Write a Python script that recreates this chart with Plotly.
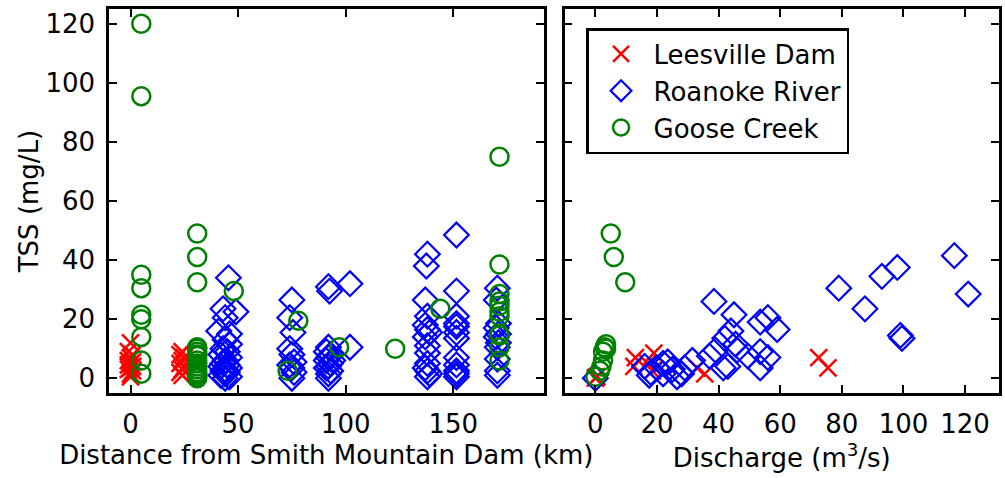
import plotly.graph_objects as go

# ---------------- data (left panel: distance km vs TSS) ----------------
lees_dist = [0, -1, 1, 0, -1, 1, 0, -1, 1, 0, -1, 1, 0, 0,
             24, 23, 25, 24, 23, 25, 24, 23, 24]
lees_tss_d = [12, 9, 8, 7, 6, 5.5, 5, 4.5, 4, 3.5, 3, 2.5, 1.5, 0.5,
              9, 8, 7, 6, 5, 4, 3, 2, 1]

roan_dist = [45.5, 43, 49, 44, 41, 46, 44, 46, 43, 45, 42, 46, 44, 43, 45, 42, 46, 44, 43, 45, 44, 42, 46, 44,
             75, 74, 75.5, 74, 75, 76, 74, 75, 76, 75,
             92, 92.5, 92, 91, 93, 92, 91, 93, 92, 91, 93, 92, 92, 94,
             102, 102,
             138, 137.5, 137, 138, 137, 138, 139, 137, 138, 138, 138, 137, 138, 139, 138,
             151.5, 151.5, 151.5, 151.5, 151.5, 151.5, 151.5, 151.5, 151.5, 151.5, 151.5, 151.5,
             170.5, 170, 171, 170, 171, 170, 171, 170.5, 170.5, 170.5, 170.5]
roan_tss_d = [34, 23.5, 22.5, 20.5, 16, 15, 13, 11.5, 10, 9, 8, 7, 6, 5, 4.5, 4, 3.5, 3, 2.5, 2, 1.5, 1, 0.5, 0,
              26.5, 20.5, 15.5, 10, 8, 5.5, 4.5, 3.5, 2, 0,
              31, 29.5, 10.5, 9, 8, 7, 6, 5, 4, 3.5, 2.5, 1.5, 0, 6,
              32, 10.5,
              42, 38, 26.5, 21, 18, 16.5, 15.5, 14, 11, 8.5, 5, 3.5, 2.5, 1.5, 0.5,
              48.5, 29.5, 21, 18.5, 17.5, 15.5, 13.5, 7, 4.5, 2.5, 0.5, 1.5,
              30.5, 26.5, 18.5, 17, 15, 14, 12, 10.5, 6.5, 2.5, 1]

goose_dist = [5, 5, 5, 5, 5, 5, 5, 5, 5,
              31, 31, 31, 31, 31, 31, 31, 31, 31, 31, 31, 31, 31, 31, 31, 31, 31,
              48, 73, 78, 97, 123, 144,
              171.5, 171.5, 171.5, 171.5, 171.5, 171.5, 171.5, 171.5, 171.5, 171.5, 171.5]
goose_tss_d = [120, 95.5, 35, 30.5, 21.5, 20, 14, 6, 1.5,
               49, 41, 32.5, 10.5, 10, 9, 8, 7.5, 6, 5, 4, 3, 2, 1.5, 1, 0.5, 0,
               29.5, 2.5, 19.5, 10.5, 10, 23.5,
               75, 38.5, 28.5, 26, 24.5, 22.5, 21, 15, 14.5, 10.5, 6]

# ---------------- data (right panel: discharge m3/s vs TSS) ----------------
lees_q = [0, 0.5, 13, 12.5, 19, 17, 18.5, 33, 35.5, 72.5, 75.5]
lees_tss_q = [0, 0.5, 7, 4, 8.5, 5, 2.5, 3.5, 1.5, 7, 3.5]

roan_q = [0, 16, 17.5, 18, 20, 22, 22, 23.5, 25, 26.5, 28, 29, 31.5, 37, 39,
          38.5, 45, 44, 42, 45.5, 46, 43, 41.5, 49.5, 53.5, 56, 59, 53.5, 56, 53.5,
          79, 87.5, 93, 98, 99, 99.5, 116.5, 121]
roan_tss_q = [0, 4, 1, 2, 3.5, 5, 1.5, 5.5, 3, 0.5, 1.5, 3.5, 6, 7.5, 9.5,
              26, 21.5, 16, 13.5, 11.5, 9.5, 4, 3.5, 7.5, 19, 20.5, 16.5, 9, 7, 3.5,
              30.5, 23.5, 34.5, 37.5, 14.5, 13.5, 41.5, 28.5]

goose_q = [5, 6, 9.7, 3.5, 3, 3.5, 2.5, 2.5, 2, 1.5, 0]
goose_tss_q = [49, 41, 32.5, 11.5, 10.5, 10, 9, 6, 4, 2.5, 0.5]

names = ["Leesville Dam", "Roanoke River", "Goose Creek"]
RED, BLUE, GREEN = "#ff0000", "#0000ff", "#008000"

FONT = "DejaVu Sans"
FS = 26

x_mk = dict(symbol="x-thin", size=17, line=dict(color=RED, width=2.5), color=RED)
d_mk = dict(symbol="diamond-open", size=19, color=BLUE, line=dict(color=BLUE, width=2.2))
c_mk = dict(symbol="circle-open", size=18, color=GREEN, line=dict(color=GREEN, width=2.5))

fig = go.Figure()
# left panel
fig.add_trace(go.Scatter(x=lees_dist, y=lees_tss_d, mode="markers", marker=x_mk,
                         name=names[0], showlegend=False, xaxis="x", yaxis="y"))
fig.add_trace(go.Scatter(x=roan_dist, y=roan_tss_d, mode="markers", marker=d_mk,
                         name=names[1], showlegend=False, xaxis="x", yaxis="y"))
fig.add_trace(go.Scatter(x=goose_dist, y=goose_tss_d, mode="markers", marker=c_mk,
                         name=names[2], showlegend=False, xaxis="x", yaxis="y"))
# right panel
fig.add_trace(go.Scatter(x=lees_q, y=lees_tss_q, mode="markers", marker=x_mk,
                         name=names[0], xaxis="x2", yaxis="y2"))
fig.add_trace(go.Scatter(x=roan_q, y=roan_tss_q, mode="markers", marker=d_mk,
                         name=names[1], xaxis="x2", yaxis="y2"))
fig.add_trace(go.Scatter(x=goose_q, y=goose_tss_q, mode="markers", marker=c_mk,
                         name=names[2], xaxis="x2", yaxis="y2"))

axis_common = dict(showline=True, linecolor="black", linewidth=2.5, mirror="allticks",
                   ticks="inside", ticklen=8, tickwidth=1.5, tickcolor="black",
                   showgrid=False, zeroline=False,
                   tickfont=dict(family=FONT, size=FS, color="black"))

fig.update_layout(
    width=1005, height=478,
    margin=dict(l=109, r=3, t=9, b=85),
    paper_bgcolor="white", plot_bgcolor="white",
    font=dict(family=FONT, size=FS, color="black"),
    xaxis=dict(domain=[0, 0.4883], range=[-10, 192], tickvals=[0, 50, 100, 150],
               title=dict(text="Distance from Smith Mountain Dam (km)", standoff=8,
                          font=dict(family=FONT, size=FS)),
               anchor="y", ticklabelstandoff=6, **axis_common),
    xaxis2=dict(domain=[0.5118, 1], range=[-10, 131], tickvals=[0, 20, 40, 60, 80, 100, 120],
                title=dict(text="Discharge (m<sup>3</sup>/s)", standoff=8,
                           font=dict(family=FONT, size=FS)),
                anchor="y2", ticklabelstandoff=6, **axis_common),
    yaxis=dict(range=[-5, 125], tickvals=[0, 20, 40, 60, 80, 100, 120],
               title=dict(text="TSS (mg/L)", standoff=0, font=dict(family=FONT, size=FS)),
               anchor="x", ticklabelstandoff=6, **axis_common),
    yaxis2=dict(range=[-5, 125], tickvals=[0, 20, 40, 60, 80, 100, 120],
                showticklabels=False, anchor="x2", matches="y", **axis_common),
    legend=dict(x=0.536, y=0.9505, xanchor="left", yanchor="top",
                bgcolor="white", bordercolor="black", borderwidth=2.5,
                font=dict(family=FONT, size=FS, color="black"),
                itemwidth=55, tracegroupgap=0),
)

fig.write_html("out.html")
